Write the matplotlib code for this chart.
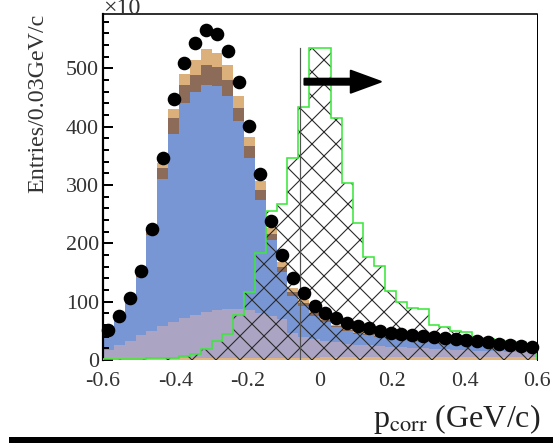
import numpy as np
import matplotlib.pyplot as plt

plt.rcParams['font.family'] = ['Liberation Serif', 'DejaVu Serif']
plt.rcParams['mathtext.fontset'] = 'stix'
plt.rcParams['axes.unicode_minus'] = False
plt.rcParams['hatch.linewidth'] = 0.55

# 40 bins of 0.03 GeV/c between -0.6 and 0.6
x_lo, x_hi, bin_w = -0.6, 0.6, 0.03
edges = np.round(np.arange(x_lo, x_hi + bin_w / 2, bin_w), 3)
centers = (edges[:-1] + edges[1:]) / 2

# data points (entries per bin)
data = [51, 76, 107, 152, 224, 347, 447, 509, 543, 565,
        559, 529, 476, 401, 319, 239, 180, 140, 114, 93,
        81, 72, 64, 58, 54, 50, 47, 45, 43, 41,
        40, 38, 36, 34, 32, 30, 28, 26, 24, 22]

# stacked MC, cumulative tops of each layer
base_top = [4, 4, 4, 4, 4, 4, 4, 4, 4, 4,
            4, 4, 4, 4, 4, 4, 4, 4, 4, 4,
            5, 5, 5, 5, 5, 5, 5, 5, 5, 5,
            5, 5, 5, 5, 5, 5, 5, 5, 5, 5]
lav_top = [17, 25, 33, 42, 50, 58, 65, 72, 77, 82,
           85, 87, 87, 85, 80, 75, 70, 46, 40, 36,
           33, 30, 28, 26, 25, 24, 23, 22, 21, 20,
           19, 18, 17, 17, 16, 15, 15, 14, 14, 14]
blue_top = [48, 70, 100, 143, 215, 310, 388, 440, 460, 472,
            469, 453, 409, 346, 274, 206, 150, 110, 92, 76,
            65, 56, 50, 45, 42, 39, 37, 35, 33, 31,
            30, 28, 27, 26, 25, 24, 22, 21, 20, 19]
brown_top = [50, 75, 106, 150, 222, 329, 414, 472, 489, 506,
             503, 480, 432, 366, 292, 216, 160, 117, 97, 80,
             68, 58, 52, 47, 44, 41, 39, 37, 35, 33,
             32, 30, 29, 28, 27, 26, 24, 23, 22, 21]
tan_top = [52, 80, 111, 155, 228, 337, 430, 490, 514, 533,
           526, 506, 452, 383, 306, 226, 168, 124, 102, 84,
           72, 60, 54, 49, 46, 43, 41, 39, 37, 35,
           34, 32, 31, 30, 29, 28, 26, 25, 24, 23]

# signal shape (hatched, green outline)
signal = [1, 1, 2, 2, 3, 3, 4, 6, 11, 18,
          33, 44, 77, 116, 184, 255, 267, 346, 433, 535,
          535, 414, 304, 234, 176, 161, 118, 100, 89, 88,
          60, 57, 50, 48, 38, 36, 34, 32, 30, 28]

cut_value = -0.055
cut_height = 535
arrow_start, arrow_end, arrow_level = -0.043, 0.168, 477

xticks = [-0.6, -0.4, -0.2, 0, 0.2, 0.4, 0.6]
xtick_labels = ['-0.6', '-0.4', '-0.2', '0', '0.2', '0.4', '0.6']
yticks = [0, 100, 200, 300, 400, 500]

fig = plt.figure(figsize=(553 / 144, 443 / 144), dpi=144)
ax = fig.add_axes([103 / 553, 1 - 360 / 443, 434 / 553, 346 / 443])

layers = [
    (base_top, 0, '#e2b57f'),
    (lav_top, base_top, '#aba5c3'),
    (blue_top, lav_top, '#7896d4'),
    (brown_top, blue_top, '#8d6b59'),
    (tan_top, brown_top, '#dcb07a'),
]
for top, bottom, col in layers:
    ax.stairs(top, edges, baseline=bottom, fill=True, color=col, lw=0, zorder=1)

# 'xx' gives ~24 px diamonds at 144 dpi, as in the reference
ax.stairs(signal, edges, fill=True, facecolor='none', edgecolor='#2a2a2a',
          hatch='xx', lw=0, zorder=3)
ax.stairs(signal, edges, color='#3de83d', lw=0.8, zorder=3.5)

ax.plot([cut_value, cut_value], [0, cut_height], color='#555555', lw=0.6, zorder=4)
ax.annotate('', xy=(arrow_end, arrow_level), xytext=(arrow_start, arrow_level),
            arrowprops=dict(arrowstyle='simple,head_length=0.75,head_width=0.55,tail_width=0.15',
                            color='k', shrinkA=0, shrinkB=0, mutation_scale=20),
            zorder=6)

ax.plot(centers, data, 'o', color='k', ms=5.8, zorder=5, clip_on=False)

ax.set_xlim(x_lo, x_hi)
ax.set_ylim(0, 593)
ax.set_xticks(xticks)
ax.set_xticklabels(xtick_labels)
ax.tick_params(axis='x', length=0, pad=6, labelsize=11, labelcolor='#333333')
ax.set_yticks(yticks)
ax.set_yticks(np.arange(0, 593, 20), minor=True)
ax.tick_params(axis='y', which='major', direction='in', length=5, width=1,
               pad=2, labelsize=11, labelcolor='#333333')
ax.tick_params(axis='y', which='minor', direction='in', length=3.2, width=1)
ax.spines['bottom'].set_visible(False)
ax.spines['left'].set_linewidth(1.1)
ax.spines['top'].set_linewidth(0.8)
ax.spines['right'].set_linewidth(0.5)

ax.text(-0.150, 1.0, 'Entries/0.03GeV/c', rotation=90, ha='center', va='top',
        transform=ax.transAxes, fontsize=12, color='#333333')
ax.text(1.007, -0.17, r'p$_{\mathrm{corr}}$ (GeV/c)', ha='right', va='center',
        transform=ax.transAxes, fontsize=16, color='#222222')
ax.text(0.0, 1.0, '×10', ha='left', va='baseline', transform=ax.transAxes,
        fontsize=12, color='#333333')

fig.add_artist(plt.Rectangle((10 / 553, 0), 1, 5 / 443, transform=fig.transFigure,
                             color='k'))

fig.savefig('out.png', dpi=144)
